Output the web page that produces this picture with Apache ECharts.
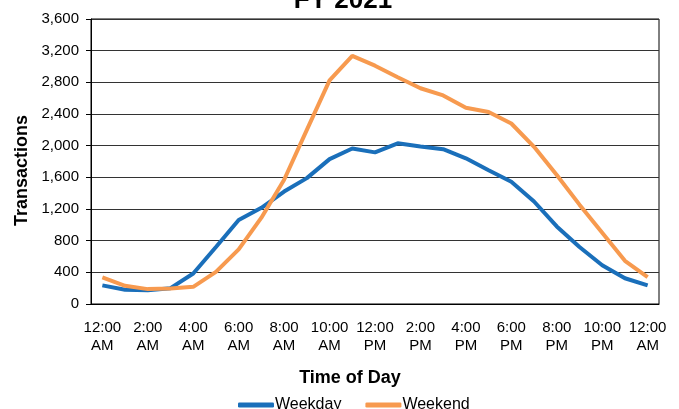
<!DOCTYPE html>
<html>
  <head>
    <meta charset="utf-8" />
    <title>FY 2021</title>
    <script src="https://cdn.jsdelivr.net/npm/echarts@6/dist/echarts.min.js"></script>
    <style>
      html, body { margin: 0; padding: 0; background: #fff; }
    </style>
  </head>
  <body>
    <div id="main" style="width: 679px; height: 409px"></div>
    <script type="text/javascript">
      // hourly points, midnight to midnight
      var hours = [
        "12:00\nAM", "1:00\nAM", "2:00\nAM", "3:00\nAM", "4:00\nAM", "5:00\nAM",
        "6:00\nAM", "7:00\nAM", "8:00\nAM", "9:00\nAM", "10:00\nAM", "11:00\nAM",
        "12:00\nPM", "1:00\nPM", "2:00\nPM", "3:00\nPM", "4:00\nPM", "5:00\nPM",
        "6:00\nPM", "7:00\nPM", "8:00\nPM", "9:00\nPM", "10:00\nPM", "11:00\nPM",
        "12:00\nAM"
      ];
      var weekday = [
        235, 180, 175, 200, 385, 720, 1060, 1215, 1420, 1590, 1830, 1965,
        1915, 2030, 1990, 1955, 1840, 1690, 1545, 1295, 980, 720, 490, 325, 235
      ];
      var weekend = [
        335, 230, 188, 197, 217, 405, 690, 1090, 1570, 2200, 2825, 3135,
        3010, 2865, 2725, 2635, 2480, 2425, 2280, 1985, 1630, 1255, 900, 545, 340
      ];
      var yTicks = [0, 400, 800, 1200, 1600, 2000, 2400, 2800, 3200, 3600];

      var chart = echarts.init(document.getElementById("main"));
      var font = "Liberation Sans, Arial, sans-serif";

      var option = {
        backgroundColor: "#fff",
        animation: false,
        textStyle: { fontFamily: font },
        title: [
          {
            text: "FY 2021",
            left: 338,
            top: -17,
            textAlign: "center",
            textStyle: { fontSize: 26, fontWeight: "bold", color: "#000", fontFamily: font }
          }
        ],
        legend: {
          data: ["Weekday", "Weekend"],
          bottom: -9,
          left: 233,
          itemWidth: 36,
          itemHeight: 5,
          itemGap: 24,
          icon: "roundRect",
          textStyle: { fontSize: 16, color: "#000", fontFamily: font, padding: [0, 0, 0, -4] }
        },
        grid: {
          left: 91,
          right: 20,
          top: 19,
          bottom: 105,
          show: true,
          borderColor: "#000",
          borderWidth: 1
        },
        xAxis: {
          type: "category",
          data: hours,
          boundaryGap: true,
          name: "Time of Day",
          nameLocation: "middle",
          nameGap: 65,
          nameTextStyle: { fontSize: 18, fontWeight: "bold", color: "#000", padding: [0, 50, 0, 0] },
          axisLine: { lineStyle: { color: "#000", width: 1 } },
          axisTick: { show: false },
          axisLabel: {
            interval: 1,
            fontSize: 15,
            lineHeight: 18,
            color: "#000",
            margin: 15
          },
          splitLine: { show: false }
        },
        yAxis: {
          type: "value",
          min: yTicks[0],
          max: yTicks[yTicks.length - 1],
          interval: 400,
          name: "Transactions",
          nameLocation: "middle",
          nameGap: 60,
          nameTextStyle: { fontSize: 18, fontWeight: "bold", color: "#000", padding: [0, 18, 0, 0] },
          axisLine: { show: true, lineStyle: { color: "#000", width: 1 } },
          axisTick: { show: true, length: 5, lineStyle: { color: "#000" } },
          axisLabel: {
            fontSize: 15,
            color: "#000",
            margin: 12,
            formatter: function (v) { return v.toLocaleString("en-US"); }
          },
          splitLine: { lineStyle: { color: "#333", width: 1 } }
        },
        series: [
          {
            name: "Weekday",
            type: "line",
            data: weekday,
            symbol: "none",
            color: "#1a6fba",
            lineStyle: { width: 4, color: "#1a6fba" }
          },
          {
            name: "Weekend",
            type: "line",
            data: weekend,
            symbol: "none",
            color: "#f79a4f",
            lineStyle: { width: 4, color: "#f79a4f" }
          }
        ]
      };

      chart.setOption(option);
    </script>
  </body>
</html>
